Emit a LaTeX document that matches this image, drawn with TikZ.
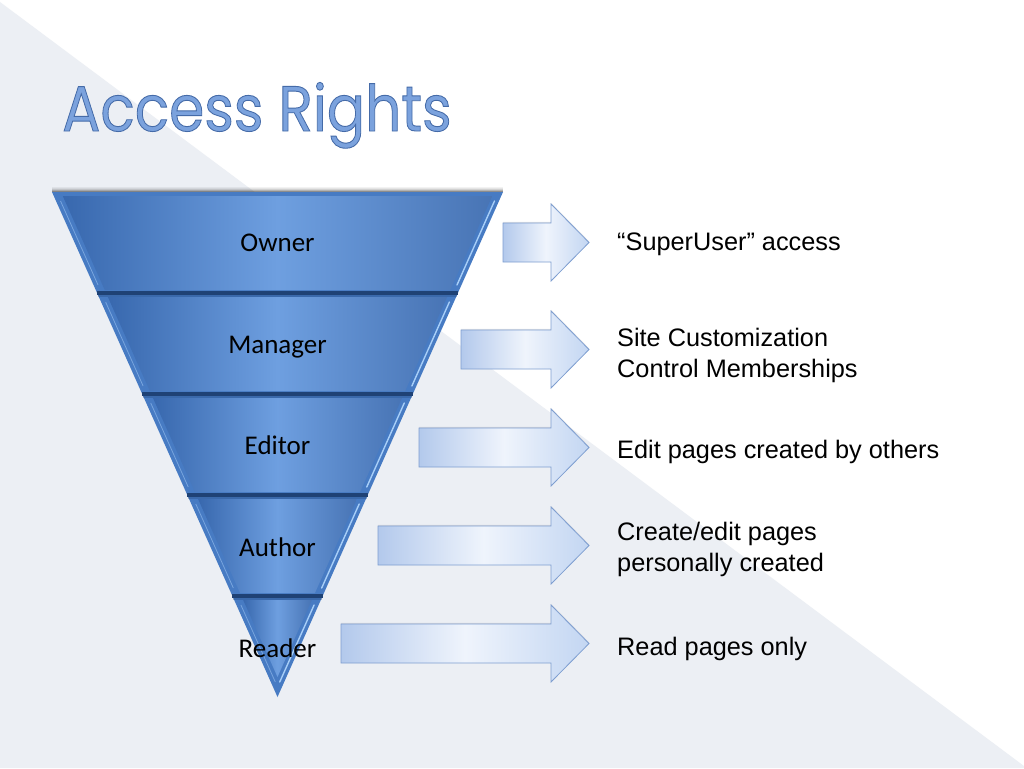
\documentclass[tikz,border=0pt]{standalone}
\usepackage{fontspec}
\setmainfont{Liberation Sans}
\newfontfamily\titlefont{Poppins}
\newfontfamily\bandfont{Carlito}
\usetikzlibrary{shadows}
\definecolor{bggray}{HTML}{ECEFF4}
\definecolor{titlefill}{HTML}{7BA2DD}
\definecolor{bandedge}{HTML}{3868AE}
\definecolor{bandmid}{HTML}{6E9FE0}
\definecolor{bandbevel}{HTML}{477BC3}
\definecolor{banddark}{HTML}{1F4275}
\definecolor{bandhi}{HTML}{A8CFF8}
\definecolor{arrowleft}{HTML}{B3C9EC}
\definecolor{arrowmid}{HTML}{EFF4FC}
\definecolor{arrowright}{HTML}{C3D6F2}
\definecolor{arrowline}{HTML}{7E9ED0}
\tikzset{
  bandlabel/.style={anchor=base, inner sep=0pt, font=\bandfont\fontsize{27}{30}\selectfont, text=black},
  desc/.style={anchor=base west, inner sep=0pt, align=left, font=\fontsize{25.3}{31}\selectfont, text=black},
  blockarrow/.style={draw=arrowline, line width=0.8pt, left color=arrowleft, right color=arrowright, middle color=arrowmid,
     drop shadow={opacity=0.18, shadow xshift=0pt, shadow yshift=1.2pt}},
}
% half-width of the funnel at height y
\newcommand\fbHW[2]{\pgfmathsetmacro#1{0.446535*(697-(#2))}}
\newcommand\funnelband[3]{%
  \fbHW\fbA{#1}\fbHW\fbB{#2}%
  \fill[bandbevel] ({277.5-\fbA},#1) -- ({277.5+\fbA},#1) -- ({277.5+\fbB},#2) -- ({277.5-\fbB},#2) -- cycle;
  \pgfmathsetmacro\fbYa{#1+4}\pgfmathsetmacro\fbYb{min(#2-3,677)}%
  \fbHW\fbC{\fbYa}\fbHW\fbD{\fbYb}%
  \pgfmathsetmacro\fbC{max(\fbC-9,0)}\pgfmathsetmacro\fbD{max(\fbD-9,0)}%
  \shade[left color=bandedge, right color=bandedge!92!white, middle color=bandmid]
    ({277.5-\fbC},\fbYa) -- ({277.5+\fbC},\fbYa) -- ({277.5+\fbD},\fbYb) -- ({277.5-\fbD},\fbYb) -- cycle;
  \pgfmathsetmacro\fbYc{#1+9}\pgfmathsetmacro\fbYd{min(#2-8,682)}%
  \fbHW\fbE{\fbYc}\fbHW\fbF{\fbYd}%
  \draw[bandhi, line width=1.4pt, line cap=round] ({277.5+\fbE-4.5},\fbYc) -- ({277.5+\fbF-4.5},\fbYd);
  \draw[bandhi!50!bandbevel, line width=0.8pt] ({277.5-\fbE+4.5},\fbYc) -- ({277.5-\fbF+4.5},\fbYd);
  \ifnum#3=1
    \draw[banddark, line width=3.5pt] ({277.5-\fbA},#1) -- ({277.5+\fbA},#1);
    \draw[banddark, opacity=0.3, line width=1.5pt] ({277.5-\fbA+1},#1+3) -- ({277.5+\fbA-1},#1+3);
  \fi
}
\newcommand\blockarrowpath[2]{%
  \path[blockarrow] (#1,#2-19.5) -- (551,#2-19.5) -- (551,#2-38.5) -- (589,#2) -- (551,#2+38.5) -- (551,#2+19.5) -- (#1,#2+19.5) -- cycle;
}
\begin{document}
\begin{tikzpicture}[x=1pt,y=-1pt]
\useasboundingbox (0,0) rectangle (1024,768);
% background
\fill[white] (0,0) rectangle (1024,768);
\fill[bggray] (0,2) -- (1024,766) -- (1024,768) -- (0,768) -- cycle;
% title
\node[anchor=base west, inner sep=0pt, text=titlefill] (title) at (62,131)
  {\scalebox{0.885}[1]{\titlefont\fontsize{64}{64}\selectfont\special{pdf:literal direct 2 Tr 0.9 w 0.27 0.42 0.66 RG}Access Rights\special{pdf:literal direct 0 Tr}}};
% funnel top shadow
\foreach \o/\op in {1/0.45,2/0.3,3/0.18,4/0.1,5/0.05}
  \draw[black, opacity=\op, line width=1pt] (52,192-\o) -- (503,192-\o);
% funnel bands
\funnelband{192}{293}{0}
\funnelband{293}{394}{1}
\funnelband{394}{495}{1}
\funnelband{495}{596}{1}
\funnelband{596}{697}{1}
% labels
\node[bandlabel] (owner) at (277.5,251) {Owner};
\node[bandlabel] (manager) at (277.5,353) {Manager};
\node[bandlabel] (editor) at (277.5,454) {Editor};
\node[bandlabel] (author) at (277.5,556) {Author};
\node[bandlabel] (reader) at (277.5,657) {Reader};
% block arrows
\blockarrowpath{503}{242.5}
\blockarrowpath{461}{349.5}
\blockarrowpath{419}{447.5}
\blockarrowpath{378}{545.5}
\blockarrowpath{341}{643.5}
% descriptions
\node[desc] (d1) at (617,250) {“SuperUser” access};
\node[desc] (d2) at (617,377) {Site Customization\\Control Memberships};
\node[desc] (d3) at (617,458) {Edit pages created by others};
\node[desc] (d4) at (617,571) {Create/edit pages\\personally created};
\node[desc] (d5) at (617,655) {Read pages only};
\end{tikzpicture}
\end{document}
